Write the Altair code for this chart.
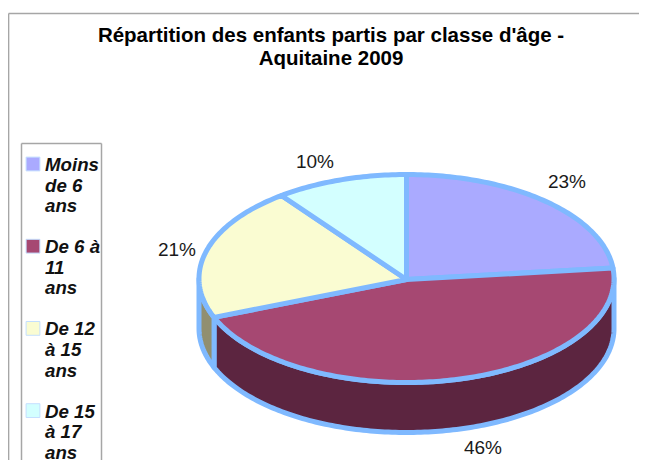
import math
import altair as alt
import pandas as pd

# ---- values
categories = ["Moins|de 6|ans", "De 6 à|11|ans", "De 12|à 15|ans", "De 15|à 17|ans"]
shares = [23.4, 45.5, 20.8, 10.3]
share_labels = ["23%", "46%", "21%", "10%"]
top_colors = ["#AAAAFF", "#A64872", "#FAFCD2", "#D3FFFF"]
wall_colors = ["#55557F", "#5C2540", "#918F70", "#6A8080"]
title_lines = ["Répartition des enfants partis par classe d'âge -", "Aquitaine 2009"]

# ---- layout (pixels inside the chart, the page margin being 8)
W, H = 631, 452
CX, CY, RX, RY, DEPTH = 398.5, 270.5, 207.5, 104, 50
HUB_DROP = 1.0
EDGE = "#7FB9FF"
GREY = "#A6A6A6"
FONT = "Liberation Sans"
LABEL_POS = [(559, 174), (475, 440), (169, 242), (307, 154)]


def pt(deg, drop=0.0):
    a = math.radians(deg)
    return [CX + RX * math.sin(a), CY - RY * math.cos(a) + drop]


def arc(a0, a1, drop=0.0):
    n = max(2, int(abs(a1 - a0)) + 1)
    return [pt(a0 + (a1 - a0) * i / (n - 1), drop) for i in range(n)]


def feature(ring, fill):
    return {
        "type": "Feature",
        "properties": {"fill": fill},
        "geometry": {"type": "Polygon", "coordinates": [ring + [ring[0]]]},
    }


tops, walls = [], []
start = 0.0
for share, top, wall in zip(shares, top_colors, wall_colors):
    end = start + share * 3.6
    tops.append(feature([[CX, CY + HUB_DROP]] + arc(start, end), top))
    lo, hi = max(start, 90.0), min(end, 270.0)
    if lo < hi:
        walls.append(feature(arc(lo, hi) + arc(hi, lo, DEPTH), wall))
    start = end

projection = alt.Projection(type="identity", scale=1, translate=[0, 0])


def shapes(features):
    return (
        alt.Chart(alt.Data(values=features))
        .mark_geoshape(stroke=EDGE, strokeWidth=5, strokeJoin="round")
        .encode(fill=alt.Fill("properties.fill:N", scale=None))
        .project(**projection.to_dict())
    )


labels = pd.DataFrame(
    {
        "label": share_labels,
        "x": [p[0] for p in LABEL_POS],
        "y": [p[1] for p in LABEL_POS],
    }
)
label_layer = (
    alt.Chart(labels)
    .mark_text(font=FONT, fontSize=19, color="#1A1A1A", align="center", baseline="middle")
    .encode(x=alt.X("x:Q", scale=None), y=alt.Y("y:Q", scale=None), text="label:N")
)

legend = pd.DataFrame(
    {
        "cat": categories,
        "color": top_colors,
        "x": [25 for _ in categories],
        "y": [156 + i * 82.2 for i in range(len(categories))],
    }
)
swatches = (
    alt.Chart(legend)
    .mark_square(size=190, filled=True, stroke="#C4DFFF", strokeWidth=1, opacity=1)
    .encode(
        x=alt.X("x:Q", scale=None),
        y=alt.Y("y:Q", scale=None),
        fill=alt.Fill("color:N", scale=None),
    )
)
legend_text = (
    alt.Chart(legend)
    .mark_text(
        font=FONT, fontSize=18.7, fontWeight="bold", fontStyle="italic", color="#111111",
        align="left", baseline="alphabetic", lineBreak="|", lineHeight=20.6, dx=12, dy=7,
    )
    .encode(x=alt.X("x:Q", scale=None), y=alt.Y("y:Q", scale=None), text="cat:N")
)


def rule(x, x2, y, y2, color=GREY, width=1.5):
    return alt.Chart(pd.DataFrame({"k": [0]})).mark_rule(color=color, strokeWidth=width).encode(
        x=alt.value(x), x2=alt.value(x2), y=alt.value(y), y2=alt.value(y2)
    )


frame = [
    rule(0.6, W, 5.5, 5.5),
    rule(0.6, 0.6, 5.5, H),
    rule(13.5, 93.5, 135.5, 135.5),
    rule(13.5, 13.5, 135.5, H),
    rule(93.5, 93.5, 135.5, H),
]

chart = alt.layer(
    *frame,
    shapes(walls),
    shapes(tops),
    label_layer,
    swatches,
    legend_text,
).properties(
    width=W,
    height=H,
    padding=0,
    autosize=alt.AutoSizeParams(type="none"),
    title=alt.TitleParams(
        text=title_lines,
        font=FONT,
        fontSize=20.5,
        fontWeight="bold",
        color="#000000",
        lineHeight=23,
        anchor="middle",
        dx=7.5,
        dy=65.5,
    ),
).configure_view(stroke=None)

chart.save("out.html", embed_options={"renderer": "svg", "actions": False})
